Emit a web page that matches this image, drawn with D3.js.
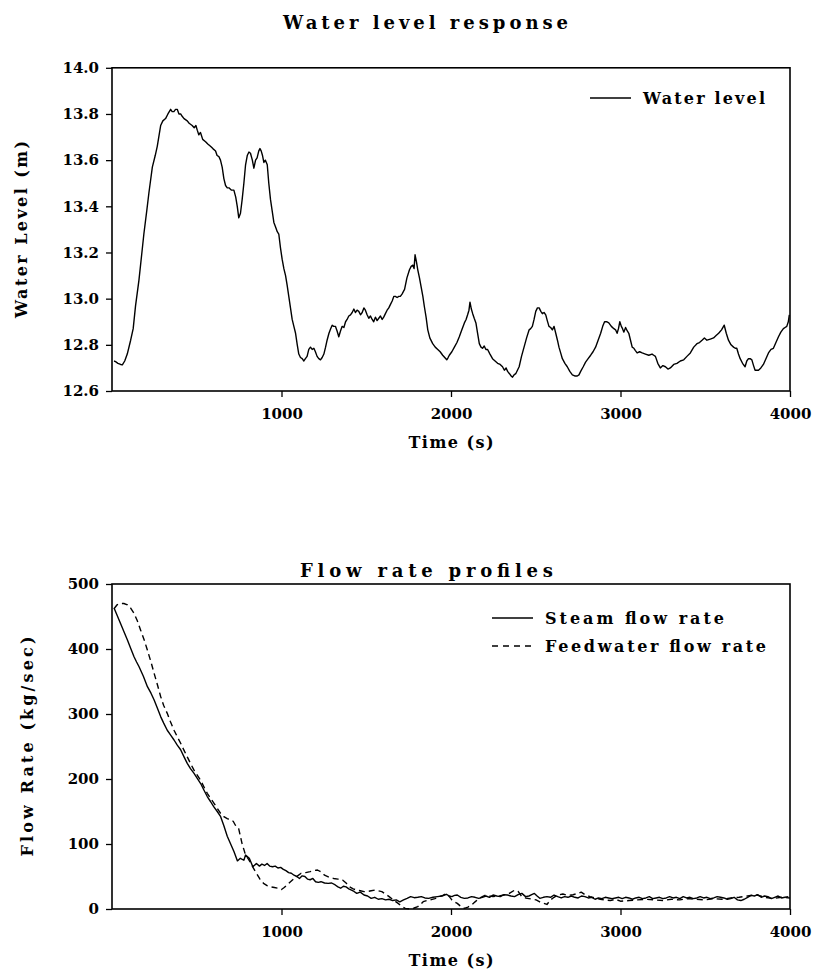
<!DOCTYPE html>
<html><head><meta charset="utf-8">
<script src="https://cdn.jsdelivr.net/npm/d3@7"></script>
<style>body{margin:0;background:#fff}svg{display:block}</style>
</head><body><svg id="c" width="817" height="973"></svg>
<script>
// ---------- DATA ----------
const levelTime = [12,21,35,51,61,75,90,110,125,139,159,175,188,205,218,238,255,267,287,300,316,330,346,355,365,375,385,395,405,414,425,444,455,473,485,495,503,512,522,535,552,565,581,595,611,620,631,640,650,660,670,680,690,705,719,730,739,748,758,768,778,788,798,808,817,828,837,847,856,866,873,880,888,896,905,916,925,935,945,955,965,975,984,994,1004,1014,1024,1033,1043,1053,1063,1073,1083,1093,1102,1112,1122,1132,1141,1151,1161,1171,1181,1191,1200,1210,1220,1230,1240,1250,1260,1269,1280,1290,1299,1308,1318,1328,1338,1348,1358,1368,1378,1387,1397,1407,1417,1427,1436,1446,1456,1466,1476,1486,1495,1505,1515,1525,1535,1544,1554,1564,1574,1584,1594,1603,1613,1623,1633,1643,1653,1663,1672,1682,1692,1701,1711,1726,1740,1755,1765,1775,1782,1788,1796,1804,1814,1824,1834,1843,1853,1863,1875,1892,1907,1922,1936,1951,1963,1975,1983,1990,2005,2020,2035,2049,2064,2079,2089,2098,2106,2112,2120,2128,2137,2147,2157,2167,2177,2186,2196,2206,2216,2230,2245,2260,2275,2290,2304,2315,2325,2334,2345,2355,2363,2372,2382,2392,2402,2416,2431,2446,2461,2470,2480,2490,2500,2510,2520,2530,2539,2549,2559,2568,2578,2588,2598,2608,2618,2628,2637,2647,2657,2672,2686,2701,2716,2730,2745,2755,2765,2780,2794,2809,2824,2838,2853,2868,2883,2895,2906,2918,2931,2946,2961,2971,2980,2988,2996,3005,3012,3020,3030,3040,3049,3059,3069,3079,3088,3098,3113,3128,3147,3167,3186,3196,3206,3220,3235,3250,3265,3280,3294,3314,3333,3353,3373,3392,3412,3432,3451,3466,3481,3495,3510,3530,3549,3564,3579,3596,3612,3624,3637,3652,3667,3677,3686,3696,3706,3720,3735,3745,3755,3765,3775,3785,3794,3804,3814,3828,3843,3858,3873,3888,3902,3917,3932,3946,3961,3971,3981,3990,3996];
const levelValue = [12.73,12.727,12.72,12.715,12.713,12.73,12.76,12.82,12.87,12.97,13.08,13.19,13.28,13.38,13.46,13.57,13.62,13.66,13.75,13.77,13.78,13.80,13.82,13.81,13.81,13.82,13.82,13.80,13.80,13.79,13.78,13.77,13.76,13.75,13.74,13.75,13.73,13.71,13.72,13.69,13.68,13.67,13.66,13.65,13.64,13.62,13.615,13.60,13.57,13.52,13.49,13.48,13.48,13.47,13.47,13.44,13.40,13.35,13.37,13.43,13.50,13.58,13.62,13.635,13.63,13.60,13.565,13.60,13.61,13.64,13.65,13.64,13.62,13.59,13.60,13.58,13.50,13.43,13.38,13.33,13.31,13.29,13.28,13.22,13.17,13.13,13.10,13.06,13.01,12.96,12.91,12.88,12.85,12.80,12.76,12.745,12.74,12.73,12.74,12.75,12.78,12.79,12.78,12.785,12.77,12.75,12.74,12.735,12.745,12.76,12.79,12.82,12.85,12.87,12.885,12.88,12.88,12.86,12.835,12.86,12.88,12.875,12.90,12.91,12.925,12.93,12.94,12.955,12.94,12.95,12.945,12.93,12.94,12.96,12.95,12.93,12.915,12.925,12.91,12.90,12.92,12.905,12.915,12.925,12.91,12.92,12.935,12.95,12.96,12.975,12.99,13.01,13.01,13.005,13.01,13.01,13.02,13.04,13.09,13.125,13.14,13.145,13.13,13.19,13.16,13.125,13.09,13.05,13.01,12.965,12.92,12.865,12.83,12.805,12.79,12.78,12.77,12.755,12.745,12.735,12.745,12.755,12.77,12.79,12.81,12.835,12.865,12.895,12.91,12.93,12.95,12.985,12.955,12.935,12.915,12.895,12.85,12.805,12.79,12.785,12.795,12.78,12.78,12.76,12.74,12.73,12.72,12.715,12.705,12.69,12.70,12.685,12.675,12.665,12.66,12.67,12.675,12.69,12.705,12.75,12.79,12.83,12.865,12.87,12.88,12.91,12.945,12.96,12.96,12.945,12.935,12.94,12.93,12.905,12.88,12.875,12.865,12.88,12.85,12.82,12.79,12.765,12.74,12.72,12.705,12.685,12.67,12.665,12.665,12.67,12.685,12.705,12.725,12.74,12.755,12.77,12.79,12.82,12.85,12.88,12.90,12.90,12.895,12.88,12.87,12.865,12.85,12.87,12.90,12.88,12.87,12.855,12.875,12.86,12.85,12.82,12.79,12.785,12.775,12.765,12.77,12.765,12.76,12.755,12.76,12.755,12.75,12.72,12.70,12.71,12.705,12.695,12.70,12.715,12.72,12.73,12.735,12.75,12.765,12.79,12.805,12.81,12.82,12.83,12.82,12.825,12.83,12.84,12.85,12.865,12.885,12.85,12.82,12.80,12.79,12.785,12.785,12.76,12.74,12.72,12.705,12.73,12.74,12.74,12.735,12.71,12.69,12.69,12.69,12.70,12.715,12.74,12.765,12.78,12.785,12.81,12.835,12.855,12.87,12.875,12.88,12.90,12.93];

const steamTime = [12,30,51,70,91,110,130,145,159,185,209,230,248,268,287,305,326,345,366,385,405,425,444,463,483,503,523,542,562,582,601,621,641,660,680,700,720,740,757,778,788,810,831,852,870,884,900,915,930,947,963,979,995,1011,1026,1042,1058,1074,1090,1106,1122,1138,1153,1169,1185,1201,1217,1233,1254,1275,1296,1317,1333,1349,1365,1381,1397,1413,1428,1444,1465,1487,1508,1529,1550,1571,1592,1614,1635,1656,1677,1698,1720,1741,1762,1783,1804,1825,1846,1868,1894,1920,1947,1973,1990,2005,2021,2037,2058,2079,2100,2121,2142,2164,2185,2206,2227,2248,2270,2291,2312,2333,2354,2375,2396,2418,2440,2460,2476,2492,2508,2524,2545,2566,2587,2608,2630,2650,2670,2690,2710,2730,2750,2770,2790,2810,2830,2850,2870,2890,2910,2930,2950,2970,2990,3010,3030,3050,3070,3090,3110,3130,3150,3170,3190,3210,3230,3250,3270,3290,3310,3330,3350,3370,3390,3410,3430,3450,3470,3490,3510,3530,3550,3570,3590,3610,3630,3650,3670,3690,3710,3730,3750,3770,3790,3810,3830,3850,3870,3890,3910,3930,3950,3970,3990];
const steamValue = [463,452,439,427,414,401,388,380,373,358,342,332,322,309,296,286,275,268,260,252,245,234,224,216,209,201,193,183,173,165,157,150,142,128,112,100,88,74,78,75,83,78,65,70,66,69,67,70,66,65,66,63,64,61,59,56,55,52,50,47,51,50,46,45,47,42,41,42,40,39.5,40,37,34,32,35,34,31,29,27,24,26,21.5,20,16.4,18,15,16,14,15,13,14,11,14,16.4,19,17.4,18,19,17,16.4,18,19,20,22.6,20,19,21,21.5,18,16.4,17,19,18,16.4,18,20,18,21.5,20,19,22,21.5,20,19,22,24,19,20,22,24,20,16.4,18,19,18,21.5,19,17,19,18,20,18,17,20,19,17,18,15,17,16,18,17,16,17,18,16,18,17,15,17,18,16,17,19,16,17,18,16,17,19,17,18,16,19,17,18,16,17,19,17,18,16,17,19,18,17,15,16,18,14,13,15,18,21,20,22,18,20,19,16,18,20,17,18,19];

const feedTime = [12,30,51,70,91,110,130,150,169,190,209,230,248,268,287,305,326,345,366,385,405,425,444,463,483,503,523,542,562,582,601,621,641,660,680,700,715,730,747,767,788,804,820,836,852,873,894,915,937,958,979,1000,1016,1032,1053,1074,1095,1116,1143,1169,1190,1212,1233,1254,1280,1307,1333,1360,1381,1402,1423,1444,1465,1487,1508,1529,1550,1571,1592,1614,1635,1660,1688,1710,1730,1762,1783,1804,1820,1836,1857,1878,1905,1931,1952,1973,1990,2005,2021,2037,2058,2079,2100,2121,2142,2164,2185,2206,2227,2248,2280,2312,2344,2375,2396,2418,2440,2460,2481,2502,2524,2545,2566,2587,2608,2630,2660,2690,2720,2750,2768,2790,2820,2850,2880,2910,2940,2970,3000,3050,3100,3150,3200,3250,3300,3350,3400,3450,3500,3550,3600,3650,3700,3750,3800,3850,3900,3950,4000];
const feedValue = [462,468,470,470,468,463,455,443,429,414,398,380,363,345,327,313,301,288,275,265,255,244,234,224,214,206,198,188,178,170,163,155,147,142,139,137,135,128,124,101,83,77,70,62,55,46,39.5,36,34,33,32,30,33,37,42,47,51,55,56,57.5,59,60,57,52,49,47,46,44.6,40,34,31,29,28,26.7,27,28,29,28,26.7,23,19,14,8.7,4,1,0,1.5,3.6,7,11.3,13,13.9,16,19,21,24,19,14,11,8.7,4,1,3,6,11,16,19,21.5,20,19,20,21.5,24,29,27,19,17,16,15,14,11,9,7,14,18,21.5,23,21,22,24,26,22,19,17,15,14,13,15,12,13,14,15,14,13,15,14,16,15,14,16,15,17,18,20,22,18,16,18,17];

const timeTicks = [1000, 2000, 3000, 4000];
const levelTicks = [12.6, 12.8, 13.0, 13.2, 13.4, 13.6, 13.8, 14.0];
const flowTicks = [0, 100, 200, 300, 400, 500];

// ---------- DRAW ----------
const svg = d3.select('#c');
const FONT = "'DejaVu Serif', serif";
const L = 112, R = 790;

function panel(o) {
  const x = d3.scaleLinear().domain([0, 4000]).range([L, R]);
  const y = d3.scaleLinear().domain(o.yDomain).range([o.bottom, o.top]);
  const g = svg.append('g');

  // title
  g.append('text').attr('x', o.titleX).attr('y', o.titleY)
    .attr('text-anchor', 'start').attr('font-family', FONT).attr('font-weight', 'bold')
    .attr('font-size', 18).attr('textLength', o.titleLen).attr('lengthAdjust', 'spacing')
    .text(o.title);

  // axes
  const xa = g.append('g').attr('transform', `translate(0,${o.bottom})`)
    .call(d3.axisBottom(x).tickValues(timeTicks).tickFormat(d3.format('d')).tickSize(6).tickPadding(11).tickSizeOuter(0));
  const ya = g.append('g').attr('transform', `translate(${L},0)`)
    .call(d3.axisLeft(y).tickValues(o.yTicks).tickFormat(o.yFormat).tickSize(6).tickPadding(7).tickSizeOuter(0));
  [xa, ya].forEach(a => {
    a.select('.domain').remove();
    a.selectAll('line').attr('stroke', '#000').attr('stroke-width', 1.3);
    a.selectAll('text').attr('font-family', FONT).attr('font-weight', 'bold').attr('font-size', 15).attr('fill', '#000');
  });

  // frame
  g.append('rect').attr('x', L).attr('y', o.top).attr('width', R - L).attr('height', o.bottom - o.top)
    .attr('fill', 'none').attr('stroke', '#000').attr('stroke-width', 1.6);

  // axis titles
  g.append('text').attr('x', 451).attr('y', o.bottom + 57).attr('text-anchor', 'middle')
    .attr('font-family', FONT).attr('font-weight', 'bold').attr('font-size', 16)
    .attr('textLength', 85).attr('lengthAdjust', 'spacing').text('Time (s)');
  const cy = (o.top + o.bottom) / 2;
  g.append('text').attr('transform', `translate(${o.yLabX},${cy}) rotate(-90)`).attr('text-anchor', 'middle')
    .attr('font-family', FONT).attr('font-weight', 'bold').attr('font-size', 16)
    .attr('textLength', o.yLabLen).attr('lengthAdjust', 'spacing').text(o.yLabel);

  // series
  const clip = 'clip' + o.id;
  svg.append('clipPath').attr('id', clip).append('rect')
    .attr('x', L).attr('y', o.top - 2).attr('width', R - L).attr('height', o.bottom - o.top + 4);
  o.series.forEach(s => {
    const pts = s.t.map((t, i) => [t, s.v[i]]);
    g.append('path').datum(pts).attr('clip-path', `url(#${clip})`)
      .attr('d', d3.line().x(d => x(d[0])).y(d => y(d[1])))
      .attr('fill', 'none').attr('stroke', '#000').attr('stroke-width', 1.4)
      .attr('stroke-dasharray', s.dash || null).attr('stroke-linejoin', 'round');
  });

  // legend
  o.legend.forEach((s, i) => {
    const ly = o.legY + i * 28;
    g.append('line').attr('x1', o.legX).attr('x2', o.legX + 41).attr('y1', ly).attr('y2', ly)
      .attr('stroke', '#000').attr('stroke-width', 1.4).attr('stroke-dasharray', s.dash || null);
    g.append('text').attr('x', o.legX + 53).attr('y', ly + 5.5).attr('font-family', FONT)
      .attr('font-weight', 'bold').attr('font-size', 16)
      .attr('textLength', s.len).attr('lengthAdjust', 'spacing').text(s.name);
  });
}

panel({
  id: 'a', top: 67.8, bottom: 391, yDomain: [12.6, 14.0], yTicks: levelTicks, yFormat: d3.format('.1f'),
  title: 'Water level response', titleX: 283, titleY: 29, titleLen: 285,
  yLabel: 'Water Level (m)', yLabX: 27, yLabLen: 177,
  series: [{ t: levelTime, v: levelValue }],
  legX: 590, legY: 98,
  legend: [{ name: 'Water level', len: 122 }]
});

panel({
  id: 'b', top: 584, bottom: 909, yDomain: [0, 500], yTicks: flowTicks, yFormat: d3.format('d'),
  title: 'Flow rate profiles', titleX: 300, titleY: 577, titleLen: 253,
  yLabel: 'Flow Rate (kg/sec)', yLabX: 33, yLabLen: 220,
  series: [{ t: steamTime, v: steamValue }, { t: feedTime, v: feedValue, dash: '6,4' }],
  legX: 492, legY: 618,
  legend: [{ name: 'Steam flow rate', len: 179 }, { name: 'Feedwater flow rate', len: 221, dash: '6,5' }]
});
</script>
</body></html>
